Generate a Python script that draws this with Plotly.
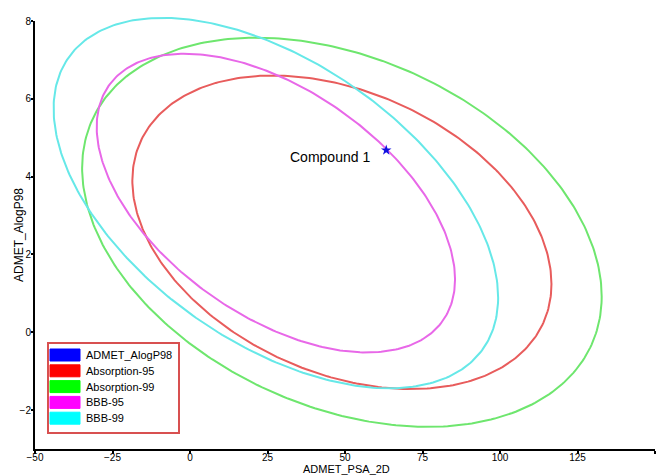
import numpy as np
import plotly.graph_objects as go

# ---- data ----
ellipse_names = ["Absorption-95", "Absorption-99", "BBB-95", "BBB-99"]
center_psa = [49.0, 49.0, 27.7, 27.7]
center_alogp = [2.57, 2.57, 3.32, 3.32]
half_psa = [67.6, 83.8, 57.8, 71.7]
half_alogp = [4.03, 5.00, 3.84, 4.76]
correlation = [-0.33, -0.33, -0.51, -0.51]

compound_names = ["Compound 1"]
compound_psa = [63.3]
compound_alogp = [4.68]

legend_names = ["ADMET_AlogP98", "Absorption-95", "Absorption-99", "BBB-95", "BBB-99"]
legend_colors = ["#0000ff", "#ff0000", "#00ff00", "#ff00ff", "#00ffff"]
line_colors = {"Absorption-95": "#e85c5c", "Absorption-99": "#6ee66e",
               "BBB-95": "#e868e8", "BBB-99": "#66e8e8"}

x_range = [-50, 150]
y_range = [-3, 8]
x_ticks = [-50, -25, 0, 25, 50, 75, 100, 125, 150]
y_ticks = [-2, 0, 2, 4, 6, 8]
x_title = "ADMET_PSA_2D"
y_title = "ADMET_AlogP98"

FONT = "Arial, Liberation Sans, sans-serif"

# ---- layout geometry (pixels) ----
W, H = 660, 476
ML, MR, MT, MB = 35, 5, 14, 27
PW, PH = W - ML - MR, H - MT - MB
AXIS_TOP = 21  # pixel row of the top of the y axis
main_dom_top = (H - MB - AXIS_TOP) / PH
# overflow axis: same scale as the main y axis but taller domain so curves can exceed 8
y2_top = y_range[0] + (y_range[1] - y_range[0]) / main_dom_top


def px(xp):
    return (xp - ML) / PW


def py(yp):
    return (H - MB - yp) / PH


fig = go.Figure()

# empty trace so the visible x/y axes subplot exists
fig.add_trace(go.Scatter(x=[None], y=[None], xaxis="x", yaxis="y",
                         mode="markers", showlegend=False, hoverinfo="skip"))

t = np.linspace(0, 2 * np.pi, 361)
for name, cx, cy, a, b, r in zip(ellipse_names, center_psa, center_alogp,
                                  half_psa, half_alogp, correlation):
    phi = np.arccos(r)
    fig.add_trace(go.Scatter(
        x=cx + a * np.cos(t), y=cy + b * np.cos(t - phi),
        xaxis="x", yaxis="y2",
        mode="lines", line=dict(color=line_colors[name], width=2),
        name=name, showlegend=False, hoverinfo="skip"))

fig.add_trace(go.Scatter(
    x=compound_psa, y=compound_alogp, mode="markers", xaxis="x", yaxis="y2",
    marker=dict(symbol="star", size=8, color="#1010e0"),
    name="ADMET_AlogP98", showlegend=False))

for i, name in enumerate(compound_names):
    fig.add_annotation(x=compound_psa[i], y=compound_alogp[i], xref="x", yref="y2",
                       text=name, showarrow=False, xanchor="right", yanchor="middle",
                       xshift=-14, yshift=-7,
                       font=dict(family=FONT, size=14, color="black"))

# ---- legend drawn as shapes + text ----
shapes = [dict(type="rect", xref="paper", yref="paper",
               x0=px(48), x1=px(179), y0=py(433), y1=py(343),
               line=dict(color="#d85050", width=2), fillcolor="rgba(255,255,255,0)")]
row0, row_step = 355.0, 15.8
for i, (name, col) in enumerate(zip(legend_names, legend_colors)):
    yc = row0 + i * row_step
    shapes.append(dict(type="rect", xref="paper", yref="paper",
                       x0=px(50), x1=px(80), y0=py(yc + 6), y1=py(yc - 6),
                       line=dict(color=col, width=1), fillcolor=col))
    fig.add_annotation(xref="paper", yref="paper", x=px(84), y=py(yc), text=name,
                       showarrow=False, xanchor="left", yanchor="middle",
                       font=dict(family=FONT, size=11, color="black"))

# axis titles
fig.add_annotation(xref="paper", yref="paper", x=px(19), y=py(235),
                   text=y_title, textangle=-90, showarrow=False,
                   xanchor="center", yanchor="middle",
                   font=dict(family=FONT, size=12, color="black"))
fig.add_annotation(xref="paper", yref="paper", x=px(347), y=py(469),
                   text=x_title, showarrow=False,
                   xanchor="center", yanchor="middle",
                   font=dict(family=FONT, size=11, color="black"))

fig.update_layout(
    width=W, height=H,
    margin=dict(l=ML, r=MR, t=MT, b=MB, autoexpand=False),
    paper_bgcolor="white", plot_bgcolor="rgba(0,0,0,0)",
    font=dict(family=FONT, size=11, color="black"),
    showlegend=False,
    shapes=shapes,
    xaxis=dict(range=x_range, tickvals=x_ticks, showgrid=False, zeroline=False,
               showline=True, linecolor="black", linewidth=2, anchor="y",
               ticks="outside", ticklen=3, tickwidth=2, tickcolor="black",
               ticklabelstandoff=-5,
               tickfont=dict(family=FONT, size=10)),
    yaxis=dict(range=y_range, tickvals=y_ticks, domain=[0, main_dom_top],
               anchor="x", showgrid=False, zeroline=False,
               showline=True, linecolor="black", linewidth=2,
               ticks="outside", ticklen=2, tickwidth=2, tickcolor="black",
               ticklabelstandoff=-2,
               tickfont=dict(family=FONT, size=10)),
    yaxis2=dict(range=[y_range[0], y2_top], domain=[0, 1], anchor="x",
                visible=False, showgrid=False, zeroline=False),
)

fig.write_html("out.html")
